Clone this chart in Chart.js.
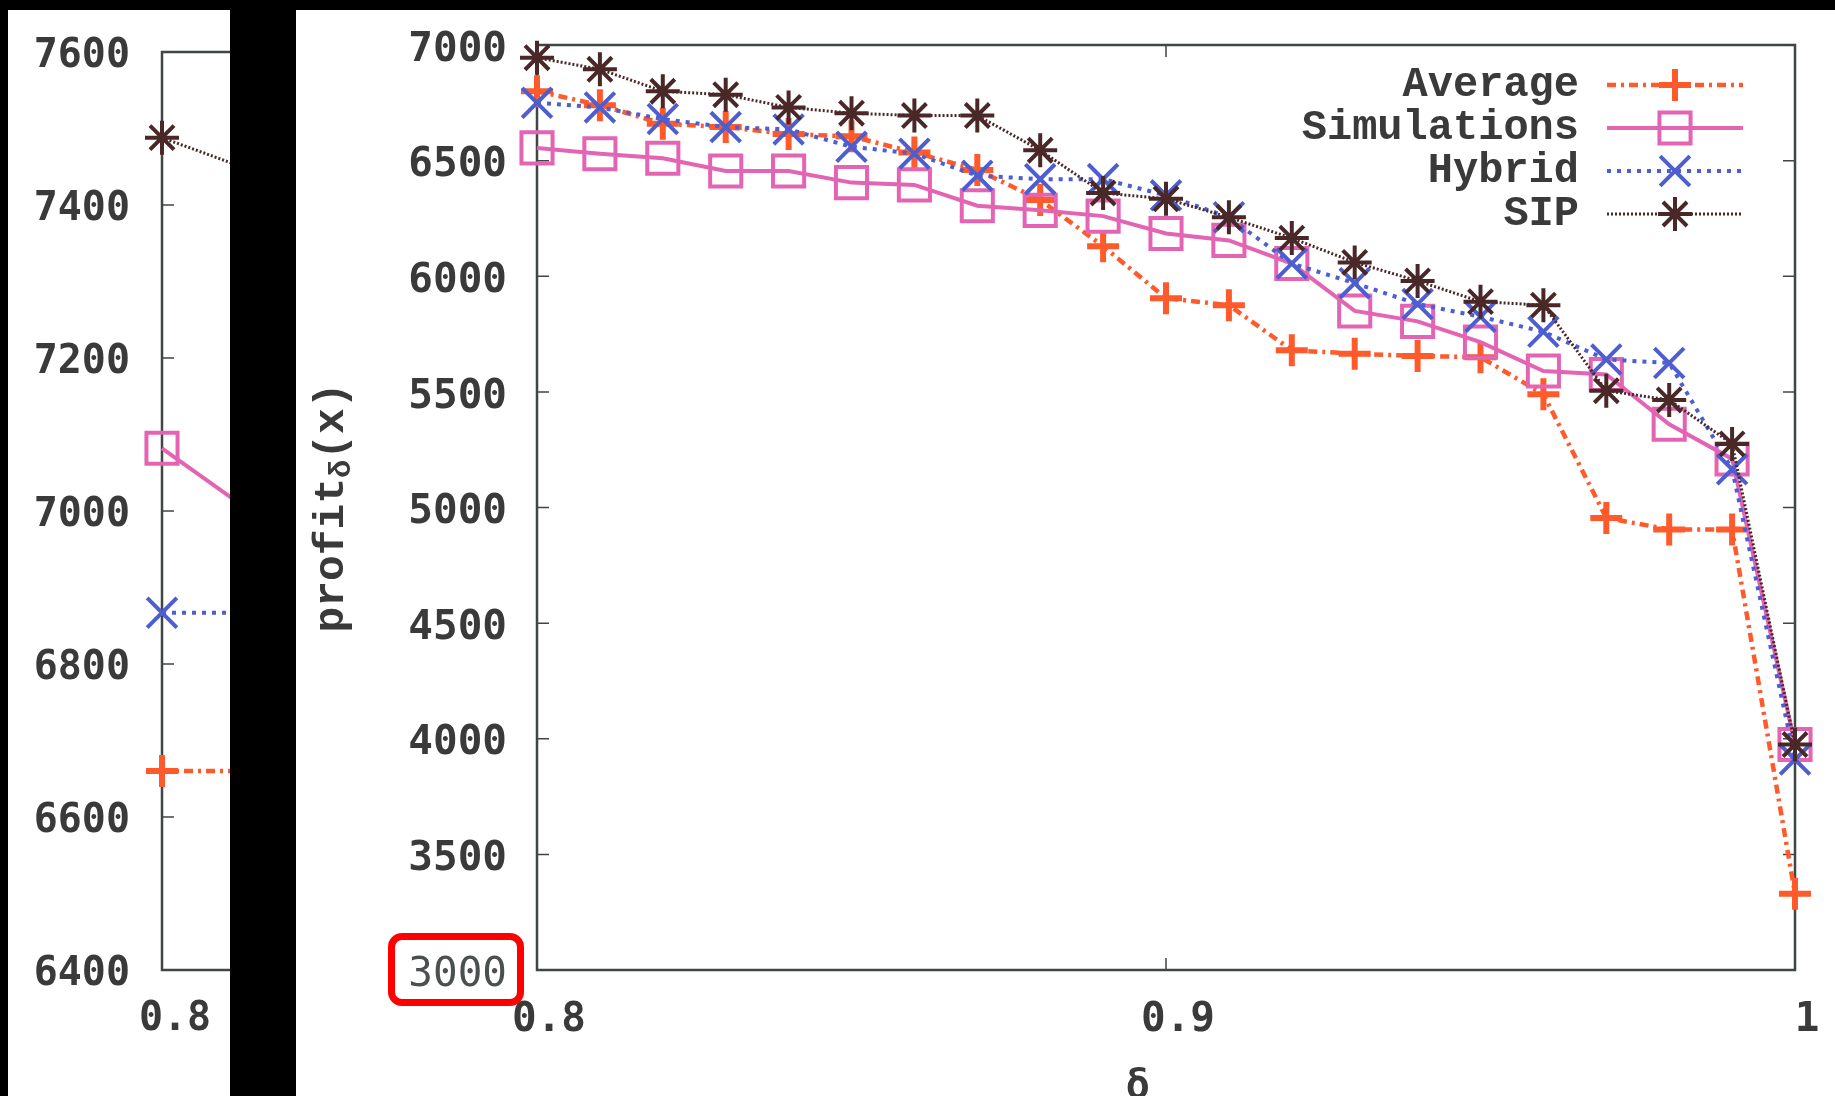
<!DOCTYPE html>
<html>
<head>
<meta charset="utf-8">
<script src="https://cdn.jsdelivr.net/npm/chart.js@4/dist/chart.umd.min.js"></script>
<style>
html,body{margin:0;padding:0;background:#000;width:1835px;height:1096px;overflow:hidden;}
#leftPanel{position:absolute;left:8px;top:10px;width:222px;height:1086px;background:#fff;overflow:hidden;}
#leftPanel canvas{position:absolute;left:0;top:0;}
#mainPanel{position:absolute;left:296px;top:10px;width:1539px;height:1086px;background:#fff;}
#mainPanel canvas{position:absolute;left:0;top:0;}
#redBox{position:absolute;left:388px;top:933px;width:122px;height:59px;border:7px solid #ff0000;border-radius:14px;pointer-events:none;}
</style>
</head>
<body>
<div id="leftPanel"><canvas id="leftChart" width="1460" height="1086"></canvas></div>
<div id="mainPanel"><canvas id="mainChart" width="1539" height="1086"></canvas></div>
<div id="redBox"></div>
<script>
// ---------- data ----------
const deltas      = [0.80,0.81,0.82,0.83,0.84,0.85,0.86,0.87,0.88,0.89,0.90,0.91,0.92,0.93,0.94,0.95,0.96,0.97,0.98,0.99,1.00];
const average     = [6800,6740,6660,6645,6615,6605,6535,6460,6330,6130,5905,5875,5680,5665,5655,5650,5490,4955,4905,4905,3330];
const simulations = [6555,6530,6510,6455,6455,6405,6395,6305,6285,6260,6185,6155,6055,5850,5805,5715,5590,5575,5360,5210,3975];
const hybrid      = [6750,6730,6680,6645,6635,6560,6530,6435,6420,6420,6350,6255,6055,5970,5880,5825,5760,5640,5625,5165,3910];
const sip         = [6945,6895,6800,6785,6730,6705,6695,6695,6545,6360,6335,6255,6165,6060,5980,5890,5875,5505,5465,5275,3975];

const seriesNames = ['Average','Simulations','Hybrid','SIP'];

const mainYTicks = [3000,3500,4000,4500,5000,5500,6000,6500,7000];
const mainXTicks = [0.8,0.9,1.0];
const mainXTickLabels = ['0.8','0.9','1'];

// partially visible left figure
const leftDeltas      = [0.80,0.81];
const leftAverage     = [6660,6660];
const leftSimulations = [7082,6965];
const leftHybrid      = [6867,6867];
const leftSip         = [7488,7428];
const leftYTicks = [6400,6600,6800,7000,7200,7400,7600];
const leftXTicks = [0.8,0.9];
const leftXTickLabels = ['0.8','0.9'];

// ---------- styles ----------
const STY = [
  {color:'#ff5a2c', dash:[9,5,3,5],  lw:4.5, point:'cross',    r:16, plw:6},
  {color:'#e464b4', dash:[],         lw:4,   point:'rect',     r:22, plw:4},
  {color:'#4c5ed0', dash:[4,6],      lw:4,   point:'crossRot', r:21, plw:4},
  {color:'#4a2828', dash:[2,2],      lw:3,   point:'star',     r:17, plw:4}
];
const TEXT = '#3a3a3a';
const FRAME = '#3e4646';

function drawMarker(ctx, s, x, y) {
  ctx.save();
  ctx.setLineDash([]);
  ctx.strokeStyle = s.color; ctx.lineWidth = s.plw;
  ctx.beginPath();
  const r = s.r, d = r*Math.SQRT1_2;
  if (s.point==='cross' || s.point==='star') { ctx.moveTo(x-r,y); ctx.lineTo(x+r,y); ctx.moveTo(x,y-r); ctx.lineTo(x,y+r); }
  if (s.point==='crossRot') { ctx.moveTo(x-d,y-d); ctx.lineTo(x+d,y+d); ctx.moveTo(x+d,y-d); ctx.lineTo(x-d,y+d); }
  if (s.point==='star') { ctx.moveTo(x-d,y-d); ctx.lineTo(x+d,y+d); ctx.moveTo(x+d,y-d); ctx.lineTo(x-d,y+d); }
  if (s.point==='rect') { ctx.rect(x-d,y-d,2*d,2*d); }
  ctx.stroke();
  ctx.restore();
}

const framePlugin = {
  id:'gpFrame',
  beforeDatasetsDraw(chart) {
    const {ctx, chartArea:a, scales} = chart;
    const tl = 12;
    ctx.save();
    ctx.strokeStyle = FRAME; ctx.lineWidth = 2.5; ctx.setLineDash([]);
    ctx.strokeRect(a.left, a.top, a.right-a.left, a.bottom-a.top);
    ctx.beginPath();
    scales.y.ticks.forEach(t => {
      const py = scales.y.getPixelForValue(t.value);
      ctx.moveTo(a.left, py); ctx.lineTo(a.left+tl, py);
      ctx.moveTo(a.right, py); ctx.lineTo(a.right-tl, py);
    });
    scales.x.ticks.forEach(t => {
      const px = scales.x.getPixelForValue(t.value);
      ctx.moveTo(px, a.bottom); ctx.lineTo(px, a.bottom-tl);
      ctx.moveTo(px, a.top); ctx.lineTo(px, a.top+tl);
    });
    ctx.lineWidth = 1.5;
    ctx.stroke();
    ctx.restore();
  }
};

function makeDatasets(xs, arrays) {
  return arrays.map((arr,i) => ({
    label: seriesNames[i],
    data: xs.map((x,j) => ({x:x, y:arr[j]})),
    borderColor: STY[i].color,
    borderWidth: STY[i].lw,
    borderDash: STY[i].dash,
    pointStyle: STY[i].point,
    pointRadius: STY[i].r,
    pointBorderWidth: STY[i].plw,
    pointBorderColor: STY[i].color,
    pointBackgroundColor: 'rgba(0,0,0,0)',
    pointHoverRadius: STY[i].r,
    fill: false,
    tension: 0,
    clip: false,
    order: 3 - i
  }));
}

function zeroPad(s) { s.paddingTop = 0; s.paddingBottom = 0; s.paddingLeft = 0; s.paddingRight = 0; }

const tickFontBold = {family:'"DejaVu Sans Mono"', size:41, weight:'bold'};

// ---------- left (partially hidden) chart ----------
new Chart(document.getElementById('leftChart'), {
  type:'line',
  data:{datasets: makeDatasets(leftDeltas,[leftAverage,leftSimulations,leftHybrid,leftSip])},
  options:{
    responsive:false, animation:false, devicePixelRatio:1,
    layout:{padding:{left:0,top:42,right:48,bottom:0}},
    plugins:{legend:{display:false}, tooltip:{enabled:false}},
    scales:{
      x:{type:'linear', min:0.8, max:0.9,
         afterBuildTicks:s=>{s.ticks = leftXTicks.map(v=>({value:v}));},
         afterFit:s=>{s.height = 126; zeroPad(s);},
         grid:{display:false, drawTicks:false}, border:{display:false},
         ticks:{callback:(v,i)=>leftXTickLabels[i], font:{family:'"DejaVu Sans Mono"', size:40, weight:'bold'}, color:TEXT, labelOffset:13, padding:26, maxRotation:0, autoSkip:false}},
      y:{type:'linear', min:6400, max:7600,
         afterBuildTicks:s=>{s.ticks = leftYTicks.map(v=>({value:v}));},
         afterFit:s=>{s.width = 154; zeroPad(s);},
         grid:{display:false, drawTicks:false}, border:{display:false},
         ticks:{callback:v=>String(v), font:{family:'"DejaVu Sans Mono"', size:40, weight:'bold'}, color:TEXT, padding:32, labelOffset:5, autoSkip:false}}
    }
  },
  plugins:[framePlugin]
});

// ---------- main chart ----------
const mainLabels = {
  id:'mainLabels',
  afterDraw(chart) {
    const ctx = chart.ctx, a = chart.chartArea;
    ctx.save();
    // legend
    const rows = [75,118,161,204];
    const textRight = 1283, s0 = 1311, s1 = 1447, mx = 1379;
    ctx.font = 'bold 42px "Liberation Mono"';
    ctx.fillStyle = TEXT; ctx.textAlign = 'right'; ctx.textBaseline = 'middle';
    seriesNames.forEach((n,i) => {
      const y = rows[i];
      ctx.fillText(n, textRight, y);
      ctx.save();
      ctx.strokeStyle = STY[i].color; ctx.lineWidth = STY[i].lw; ctx.setLineDash(STY[i].dash);
      ctx.beginPath(); ctx.moveTo(s0,y); ctx.lineTo(s1,y); ctx.stroke();
      ctx.restore();
      drawMarker(ctx, STY[i], mx, y);
    });
    // y title: profit_δ(x)
    ctx.save();
    ctx.translate(36, (a.top+a.bottom)/2);
    ctx.rotate(-Math.PI/2);
    ctx.textAlign = 'left'; ctx.textBaseline = 'middle'; ctx.fillStyle = TEXT;
    const fMain = 'bold 43px "Liberation Mono"', fSub = 'bold 30px "Liberation Mono"';
    ctx.font = fMain; const w1 = ctx.measureText('profit').width, w3 = ctx.measureText('(x)').width;
    ctx.font = fSub; const w2 = ctx.measureText('δ').width;
    let x0 = -(w1+w2+w3)/2;
    ctx.font = fMain; ctx.fillText('profit', x0, 0);
    ctx.font = fSub; ctx.fillText('δ', x0+w1, 10);
    ctx.font = fMain; ctx.fillText('(x)', x0+w1+w2, 0);
    ctx.restore();
    // x title: δ
    ctx.font = 'bold 40px "DejaVu Sans Mono"';
    ctx.textAlign = 'center'; ctx.textBaseline = 'alphabetic'; ctx.fillStyle = TEXT;
    ctx.fillText('δ', chart.scales.x.getPixelForValue(0.8955), 1088);
    ctx.restore();
  }
};

new Chart(document.getElementById('mainChart'), {
  type:'line',
  data:{datasets: makeDatasets(deltas,[average,simulations,hybrid,sip])},
  options:{
    responsive:false, animation:false, devicePixelRatio:1,
    layout:{padding:{left:0,top:35,right:40,bottom:0}},
    plugins:{legend:{display:false}, tooltip:{enabled:false}},
    scales:{
      x:{type:'linear', min:0.8, max:1.0,
         afterBuildTicks:s=>{s.ticks = mainXTicks.map(v=>({value:v}));},
         afterFit:s=>{s.height = 126; zeroPad(s);},
         grid:{display:false, drawTicks:false}, border:{display:false},
         ticks:{callback:(v,i)=>mainXTickLabels[i], font:tickFontBold, color:TEXT, labelOffset:12, padding:26, maxRotation:0, autoSkip:false}},
      y:{type:'linear', min:3000, max:7000,
         afterBuildTicks:s=>{s.ticks = mainYTicks.map(v=>({value:v}));},
         afterFit:s=>{s.width = 241; zeroPad(s);},
         grid:{display:false, drawTicks:false}, border:{display:false},
         ticks:{callback:v=>String(v),
                font:c => (c.tick && c.tick.value===3000) ? {family:'"DejaVu Sans Mono"', size:41, weight:'normal'} : tickFontBold,
                color:c => (c.tick && c.tick.value===3000) ? '#4a4f50' : TEXT,
                padding:30, labelOffset:5, autoSkip:false}}
    }
  },
  plugins:[framePlugin, mainLabels]
});
</script>
</body>
</html>
